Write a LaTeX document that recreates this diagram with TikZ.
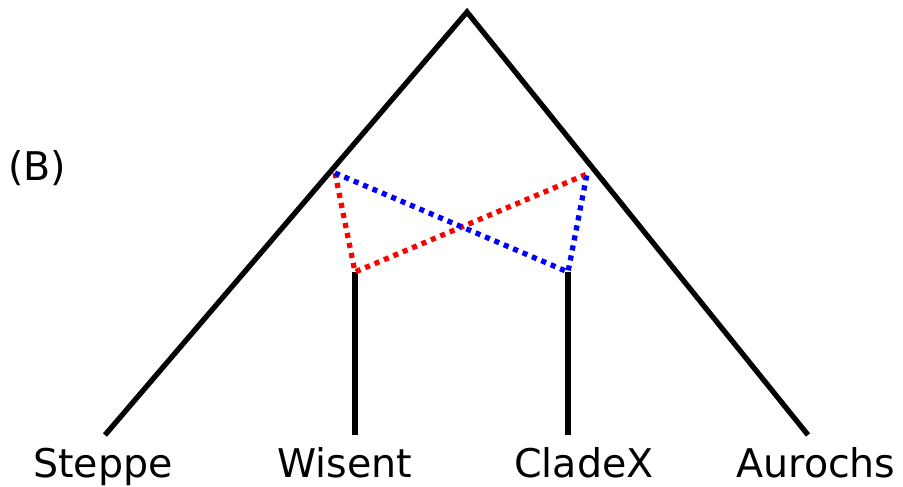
\documentclass[tikz,border=0pt]{standalone}
\usepackage{fontspec}
\setmainfont{DejaVu Sans}
\begin{document}
\begin{tikzpicture}[x=0.02cm, y=-0.02cm, font=\fontsize{22.5}{27}\selectfont,
		tree/.style={line width=3pt},
		flow/.style={line width=3pt, dash pattern=on 2.9pt off 2.9pt}]
	\useasboundingbox (0,0) rectangle (903,487);
	\coordinate (root) at (467,12);
	\coordinate (lsplit) at (335,173);
	\coordinate (rsplit) at (587,174);
	\coordinate (wtop) at (355,272);
	\coordinate (ctop) at (568,272);
	\foreach \n / \x / \lx / \txt in {st/105/103/Steppe, wi/355/345/Wisent, cx/568/584/CladeX, au/808/816/Aurochs} {
		\coordinate (\n) at (\x,435);
		\node[anchor=base, inner sep=0pt] (\n lab) at (\lx,477) {\txt};
	}
	\node[anchor=base, inner sep=0pt] (panel) at (37,180) {(B)};
	\draw[tree] (st) -- (root) -- (au);
	\draw[tree] (wi) -- (wtop);
	\draw[tree] (cx) -- (ctop);
	\draw[flow, red] (lsplit) -- (wtop) -- (rsplit);
	\draw[flow, blue] (lsplit) -- (ctop) -- (rsplit);
\end{tikzpicture}
\end{document}
